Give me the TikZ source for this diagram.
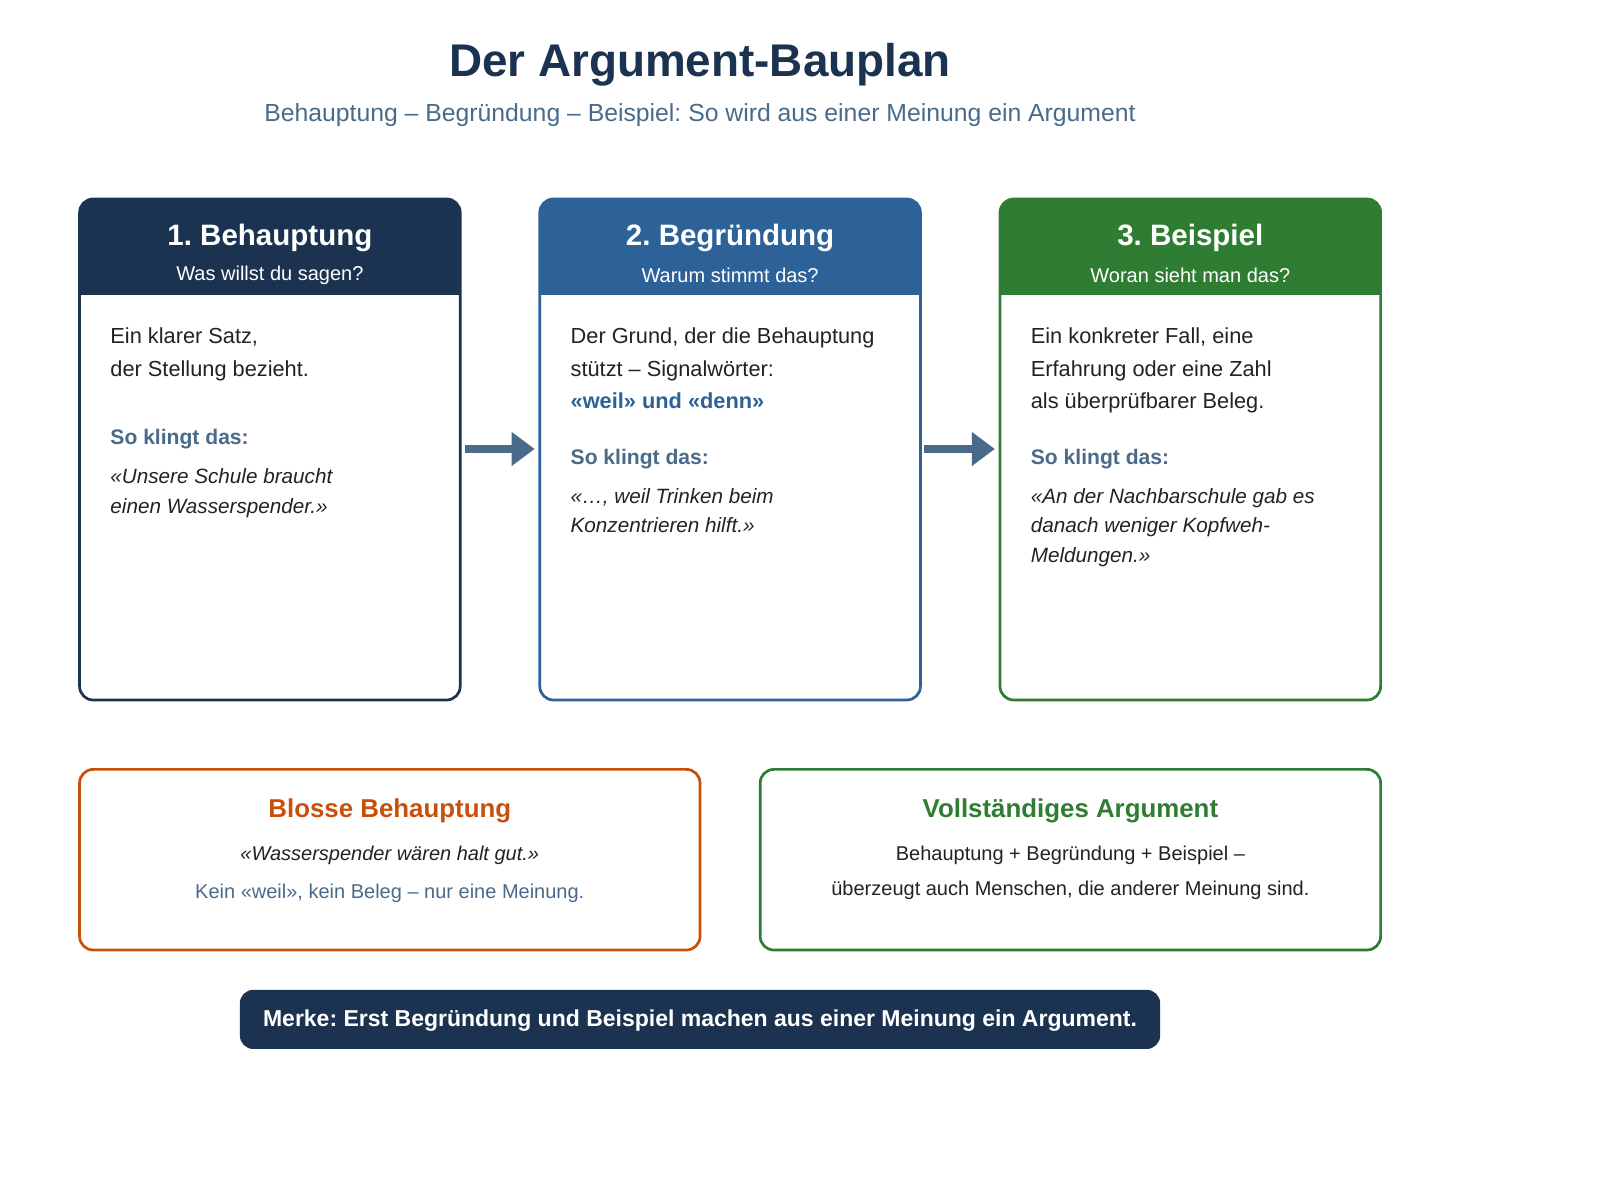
\documentclass[tikz,border=0pt]{standalone}
\usepackage{fontspec}
\setmainfont{Liberation Sans}
\usetikzlibrary{arrows.meta}
\begin{document}
\frenchspacing
\definecolor{navy}{HTML}{1B3350}
\definecolor{cblue}{HTML}{2D6299}
\definecolor{cgreen}{HTML}{2E7D32}
\definecolor{corange}{HTML}{C8500A}
\definecolor{gtext}{HTML}{4A6A8A}
\definecolor{btext}{HTML}{222222}
\begin{tikzpicture}[x=0.75pt,y=-0.75pt,
  body/.style={anchor=north west,inner sep=0,align=left,text=btext,font=\fontsize{16}{24}\selectfont},
  lab/.style={anchor=north west,inner sep=0,text=gtext,font=\fontsize{15.5}{22}\selectfont\bfseries},
  quote/.style={anchor=north west,inner sep=0,align=left,text=btext,font=\fontsize{15.2}{22}\selectfont\itshape},
  htitle/.style={text=white,font=\fontsize{21.7}{24}\selectfont\bfseries,inner sep=0},
  hsub/.style={text=white,font=\fontsize{14.7}{16}\selectfont,inner sep=0},
  arr/.style={line width=6pt,draw=gtext,-{Triangle[length=17pt,width=24pt]}},
  ]
\useasboundingbox (0,0) rectangle (1568,1176);
\node[text=navy,font=\fontsize{33.7}{36}\selectfont\bfseries] (title) at (686,63) {Der Argument-Bauplan};
\node[text=gtext,font=\fontsize{18.2}{20}\selectfont] (sub) at (686,113) {Behauptung – Begründung – Beispiel: So wird aus einer Meinung ein Argument};
% cards
\foreach \x/\c/\n in {78/navy/a,529/cblue/b,980/cgreen/c}{
  \begin{scope}
    \clip[rounded corners=10pt] (\x,195) rectangle ++(373,491);
    \fill[\c] (\x,195) rectangle ++(373,94);
  \end{scope}
  \draw[\c,line width=2pt,rounded corners=10pt] (\x,195) rectangle ++(373,491);
  \coordinate (card\n) at (\x+186.5,195);
}
\node[htitle] (t1) at (264.5,233) {1. Behauptung};
\node[hsub] (s1) at (264.5,270) {Was willst du sagen?};
\node[htitle] (t2) at (715.5,233) {2. Begründung};
\node[hsub] (s2) at (715.5,270) {Warum stimmt das?};
\node[htitle] (t3) at (1166.5,233) {3. Beispiel};
\node[hsub] (s3) at (1166.5,270) {Woran sieht man das?};
% card 1
\node[body] (b1) at (108,321) {Ein klarer Satz,\\der Stellung bezieht.};
\node[lab] (l1) at (108,420) {So klingt das:};
\node[quote] (q1) at (108,459) {«Unsere Schule braucht\\einen Wasserspender.»};
% card 2
\node[body] (b2) at (559,321) {Der Grund, der die Behauptung\\stützt – Signalwörter:\\\textcolor{cblue}{\bfseries «weil» und «denn»}};
\node[lab] (l2) at (559,440) {So klingt das:};
\node[quote] (q2) at (559,478) {«…, weil Trinken beim\\Konzentrieren hilft.»};
% card 3
\node[body] (b3) at (1010,321) {Ein konkreter Fall, eine\\Erfahrung oder eine Zahl\\als überprüfbarer Beleg.};
\node[lab] (l3) at (1010,440) {So klingt das:};
\node[quote] (q3) at (1010,478) {«An der Nachbarschule gab es\\danach weniger Kopfweh-\\Meldungen.»};
% arrows
\coordinate (a1s) at (456,440); \coordinate (a1e) at (524,440);
\coordinate (a2s) at (906,440); \coordinate (a2e) at (975,440);
\draw[arr] (a1s) -- (a1e);
\draw[arr] (a2s) -- (a2e);
% bottom boxes
\draw[corange,line width=2pt,rounded corners=10pt] (78,754) rectangle (686,931);
\node[text=corange,font=\fontsize{19}{22}\selectfont\bfseries] (bb) at (382,795) {Blosse Behauptung};
\node[text=btext,font=\fontsize{14.7}{16}\selectfont\itshape] (bq) at (382,838) {«Wasserspender wären halt gut.»};
\node[text=gtext,font=\fontsize{14.7}{16}\selectfont] (bn) at (382,875) {Kein «weil», kein Beleg – nur eine Meinung.};
\draw[cgreen,line width=2pt,rounded corners=10pt] (745,754) rectangle (1353,931);
\node[text=cgreen,font=\fontsize{19}{22}\selectfont\bfseries] (va) at (1049,795) {Vollständiges Argument};
\node[text=btext,font=\fontsize{14.7}{16}\selectfont] (v1) at (1049,838) {Behauptung + Begründung + Beispiel –};
\node[text=btext,font=\fontsize{14.7}{16}\selectfont] (v2) at (1049,873) {überzeugt auch Menschen, die anderer Meinung sind.};
% merke
\fill[navy,rounded corners=10pt] (235,970) rectangle (1137,1028);
\node[text=white,font=\fontsize{16.9}{18}\selectfont\bfseries] (m) at (686,1000) {Merke: Erst Begründung und Beispiel machen aus einer Meinung ein Argument.};
\end{tikzpicture}
\end{document}
